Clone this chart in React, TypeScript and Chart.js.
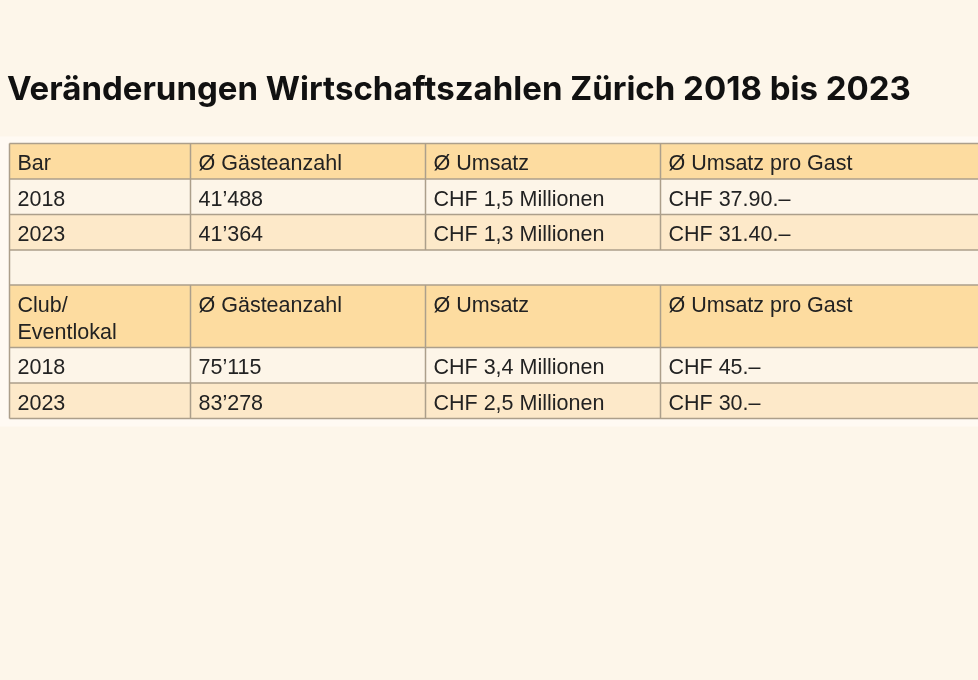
import React, { useEffect, useRef } from "react";
import { Chart, registerables } from "chart.js";

Chart.register(...registerables);

const title = "Veränderungen Wirtschaftszahlen Zürich 2018 bis 2023";

const barHeader = ["Bar", "Ø Gästeanzahl", "Ø Umsatz", "Ø Umsatz pro Gast"];
const barYears = ["2018", "2023"];
const barGuests = ["41’488", "41’364"];
const barRevenue = ["CHF 1,5 Millionen", "CHF 1,3 Millionen"];
const barPerGuest = ["CHF 37.90.–", "CHF 31.40.–"];

const clubHeader = ["Club/\nEventlokal", "Ø Gästeanzahl", "Ø Umsatz", "Ø Umsatz pro Gast"];
const clubYears = ["2018", "2023"];
const clubGuests = ["75’115", "83’278"];
const clubRevenue = ["CHF 3,4 Millionen", "CHF 2,5 Millionen"];
const clubPerGuest = ["CHF 45.–", "CHF 30.–"];

type Row = { cells: string[]; kind: "header" | "odd" | "even" | "spacer"; h: number };

function buildRows(): Row[] {
  const rows: Row[] = [];
  rows.push({ cells: barHeader, kind: "header", h: 35.5 });
  barYears.forEach((y, i) =>
    rows.push({ cells: [y, barGuests[i], barRevenue[i], barPerGuest[i]], kind: i % 2 === 0 ? "odd" : "even", h: 35.5 })
  );
  rows.push({ cells: ["", "", "", ""], kind: "spacer", h: 35 });
  rows.push({ cells: clubHeader, kind: "header", h: 62.5 });
  clubYears.forEach((y, i) =>
    rows.push({ cells: [y, clubGuests[i], clubRevenue[i], clubPerGuest[i]], kind: i % 2 === 0 ? "odd" : "even", h: 35.5 })
  );
  return rows;
}

const tablePlugin = {
  id: "tablePlugin",
  beforeDraw(chart: any) {
    const ctx = chart.ctx as CanvasRenderingContext2D;
    const W = chart.width;
    ctx.save();
    ctx.fillStyle = "#fdf6ea";
    ctx.fillRect(0, 0, W, chart.height);

    // title
    ctx.fillStyle = "#111";
    ctx.font = "bold 33px Inter, 'Noto Sans', sans-serif";
    ctx.textBaseline = "alphabetic";
    ctx.textAlign = "left";
    ctx.fillText(title, 7, 100);

    const colW = [181, 235, 235, 330];
    const x0 = 9.5;
    const top = 143.5;
    const rows = buildRows();
    const totalH = rows.reduce((s, r) => s + r.h, 0);

    // light frame
    ctx.fillStyle = "#fffaf3";
    ctx.fillRect(0, top - 7, W, totalH + 15);

    const colors: Record<string, string> = {
      header: "#fddca0",
      odd: "#fdf5e8",
      even: "#fde9c9",
      spacer: "#fdf5e8",
    };

    let y = top;
    rows.forEach((r) => {
      ctx.fillStyle = colors[r.kind];
      ctx.fillRect(x0, y, W + 20, r.h);
      y += r.h;
    });

    // text
    ctx.fillStyle = "#222";
    ctx.font = "21.5px 'Liberation Sans', Arial, sans-serif";
    y = top;
    rows.forEach((r) => {
      let x = x0;
      r.cells.forEach((c, ci) => {
        const lines = c.split("\n");
        lines.forEach((ln, li) => ctx.fillText(ln, x + 8, y + 26.5 + li * 27));
        x += colW[ci];
      });
      y += r.h;
    });

    // grid lines
    ctx.strokeStyle = "#ac9f8b";
    ctx.lineWidth = 1.5;
    y = top;
    ctx.beginPath();
    ctx.moveTo(x0, top);
    ctx.lineTo(W + 20, top);
    rows.forEach((r) => {
      y += r.h;
      ctx.moveTo(x0, y);
      ctx.lineTo(W + 20, y);
    });
    ctx.moveTo(x0, top);
    ctx.lineTo(x0, top + totalH);
    let yy = top;
    rows.forEach((r) => {
      if (r.kind !== "spacer") {
        let x = x0;
        for (let ci = 0; ci < 3; ci++) {
          x += colW[ci];
          ctx.moveTo(x, yy);
          ctx.lineTo(x, yy + r.h);
        }
      }
      yy += r.h;
    });
    ctx.stroke();
    ctx.restore();
  },
};

export default function App() {
  const ref = useRef<HTMLCanvasElement | null>(null);
  useEffect(() => {
    if (!ref.current) return;
    const chart = new Chart(ref.current, {
      type: "bar",
      data: { labels: [], datasets: [] },
      options: {
        animation: false,
        responsive: true,
        maintainAspectRatio: false,
        layout: { padding: 0 },
        plugins: { legend: { display: false }, tooltip: { enabled: false }, title: { display: false } },
        scales: { x: { display: false }, y: { display: false } },
      },
      plugins: [tablePlugin],
    });
    return () => chart.destroy();
  }, []);
  return (
    <div style={{ position: "fixed", left: 0, top: 0, width: 978, height: 680, background: "#fdf6ea" }}>
      <canvas ref={ref} />
    </div>
  );
}
